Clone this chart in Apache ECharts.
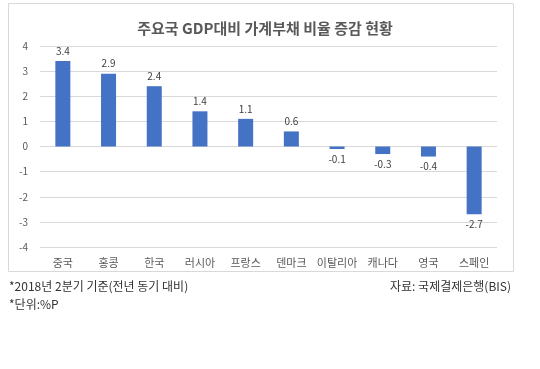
<!DOCTYPE html>
<html><head><meta charset="utf-8">
<script src="https://cdn.jsdelivr.net/npm/echarts@6/dist/echarts.min.js"></script>
<style>html,body{margin:0;padding:0;background:#fff}#c{width:540px;height:369px}</style>
</head><body><div id="c"></div>
<script>
const categories = ['중국','홍콩','한국','러시아','프랑스','덴마크','이탈리아','캐나다','영국','스페인'];
const values = [3.4, 2.9, 2.4, 1.4, 1.1, 0.6, -0.1, -0.3, -0.4, -2.7];
const titleText = '주요국 GDP대비 가계부채 비율 증감 현황';
const note1 = '*2018년 2분기 기준(전년 동기 대비)';
const note2 = '*단위:%P';
const source = '자료: 국제결제은행(BIS)';
const FONT = '"Noto Sans CJK KR", sans-serif';
const chart = echarts.init(document.getElementById('c'));
chart.setOption({
  animation: false,
  textStyle: {fontFamily: FONT},
  title: {text: titleText, left: 260, textAlign: 'center', top: 16,
    textStyle: {fontFamily: FONT, fontSize: 15, fontWeight: 'bold', color: '#595959'}},
  graphic: [
    {type: 'rect', shape: {x: 8.5, y: 3.5, width: 505, height: 268}, style: {fill: 'none', stroke: '#d9d9d9', lineWidth: 1}, z: -1},
    {type: 'text', left: 9, top: 280, style: {text: note1, font: '12px ' + FONT, fill: '#333'}},
    {type: 'text', left: 9, top: 298, style: {text: note2, font: '12px ' + FONT, fill: '#333'}},
    {type: 'text', right: 29, top: 280, style: {text: source, font: '12px ' + FONT, fill: '#333'}}
  ],
  grid: {left: 40, right: 43, top: 46, bottom: 122},
  xAxis: {type: 'category', data: categories,
    axisLine: {show: false}, axisTick: {show: false},
    axisLabel: {interval: 0, color: '#595959', fontSize: 11, margin: 10, fontFamily: FONT}},
  yAxis: {type: 'value', min: -4, max: 4, interval: 1,
    axisLine: {show: false}, axisTick: {show: false},
    axisLabel: {color: '#595959', fontSize: 10, margin: 12},
    splitLine: {lineStyle: {color: '#d9d9d9'}}},
  series: [{type: 'bar', data: values, barWidth: 15,
    itemStyle: {color: '#4472C4'},
    label: {show: true, position: 'outside', color: '#404040', fontSize: 10, distance: 5,
      formatter: p => p.value.toFixed(1)}}]
});
</script></body></html>
